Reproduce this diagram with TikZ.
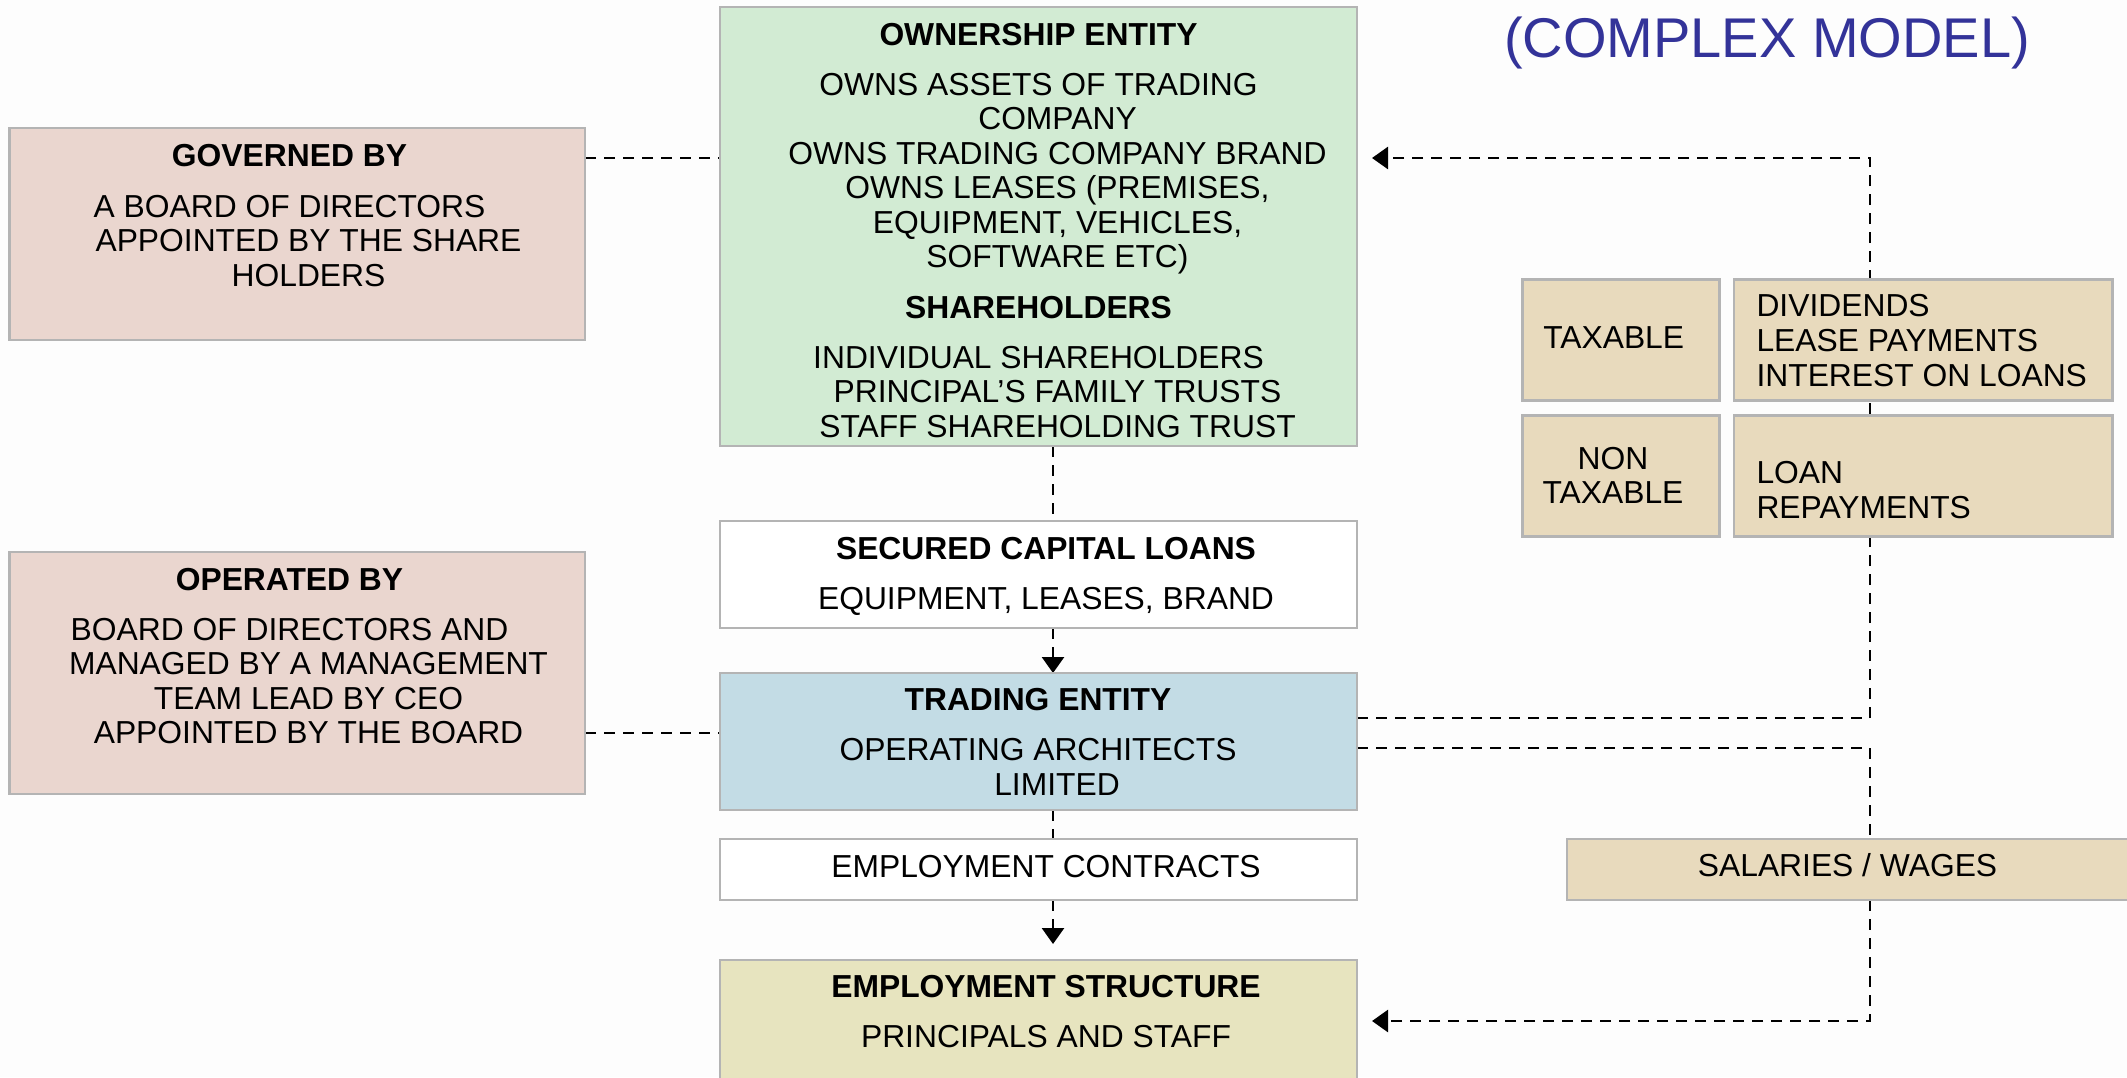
\documentclass[tikz,border=0pt]{standalone}
\usepackage{fontspec}
\setmainfont{Liberation Sans}
\usetikzlibrary{arrows.meta,calc,backgrounds}

\definecolor{pagebg}{HTML}{FDFDFD}
\definecolor{boxline}{HTML}{B4B4B4}
\definecolor{owngreen}{HTML}{D2EBD3}
\definecolor{govpink}{HTML}{EAD6CF}
\definecolor{trdblue}{HTML}{C3DCE5}
\definecolor{flowtan}{HTML}{E8DABD}
\definecolor{empyellow}{HTML}{E7E4BF}
\definecolor{titleblue}{HTML}{333399}

% continuation lines sit a little to the right of the first line
\newcommand\contline{\hspace*{38pt}}
% fixes the top of a text block 24pt above its first baseline
\newcommand\firstln{\rule{0pt}{24pt}}

\begin{document}
\begin{tikzpicture}[x=1pt,y=-1pt,
  box/.style={draw=boxline, line width=2.5pt, rectangle, inner sep=0pt,
              outer sep=0pt, anchor=north west},
  txt/.style={inner sep=0pt, outer sep=0pt, anchor=north, align=center,
              font=\fontsize{31.8}{34.5}\selectfont},
  ltxt/.style={txt, anchor=north west, align=left},
  link/.style={line width=2.7pt, dash pattern=on 11pt off 8pt},
  tip/.style={-{Triangle[length=16pt,width=22pt]}}]

\clip (0,0) rectangle (2127,1077);

% ---- boxes ----
\node[box, fill=owngreen, minimum width=637pt, minimum height=439pt] (own) at (720,7) {};
\node[box, fill=govpink, minimum width=575.5pt, minimum height=212pt] (gov) at (9.5,128) {};
\node[box, fill=govpink, minimum width=575.5pt, minimum height=242pt] (opr) at (9.5,552) {};
\node[box, fill=white, minimum width=637pt, minimum height=107pt] (sec) at (720,521) {};
\node[box, fill=trdblue, minimum width=637pt, minimum height=137pt] (trd) at (720,673) {};
\node[box, fill=white, minimum width=637pt, minimum height=61pt] (con) at (720,839) {};
\node[box, fill=empyellow, minimum width=637pt, minimum height=140pt] (str) at (720,960) {};
\node[box, fill=flowtan, minimum width=197pt, minimum height=121pt] (tax) at (1522.5,279.5) {};
\node[box, fill=flowtan, minimum width=378.5pt, minimum height=121pt] (div) at (1734,279.5) {};
\node[box, fill=flowtan, minimum width=197pt, minimum height=121pt] (ntx) at (1522.5,415.5) {};
\node[box, fill=flowtan, minimum width=378.5pt, minimum height=121pt] (loan) at (1734,415.5) {};
\node[box, fill=flowtan, minimum width=600pt, minimum height=61pt] (sal) at (1567,839) {};

% ---- texts ----
\node[txt] (own-t) at (1038.5,21) {\firstln\textbf{OWNERSHIP ENTITY}\\[15.5pt]
  OWNS ASSETS OF TRADING\\
  \contline COMPANY\\
  \contline OWNS TRADING COMPANY BRAND\\
  \contline OWNS LEASES (PREMISES,\\
  \contline EQUIPMENT, VEHICLES,\\
  \contline SOFTWARE ETC)\\[16pt]
  \textbf{SHAREHOLDERS}\\[15.5pt]
  INDIVIDUAL SHAREHOLDERS\\
  \contline PRINCIPAL’S FAMILY TRUSTS\\
  \contline STAFF SHAREHOLDING TRUST};

\node[txt] (gov-t) at (289.5,142) {\firstln\textbf{GOVERNED BY}\\[16.5pt]
  A BOARD OF DIRECTORS\\
  \contline APPOINTED BY THE SHARE\\
  \contline HOLDERS};

\node[txt] (opr-t) at (289.5,566) {\firstln\textbf{OPERATED BY}\\[15.5pt]
  BOARD OF DIRECTORS AND\\
  \contline MANAGED BY A MANAGEMENT\\
  \contline TEAM LEAD BY CEO\\
  \contline APPOINTED BY THE BOARD};

\node[txt] (sec-t) at (1046,535.6) {\firstln\textbf{SECURED CAPITAL LOANS}\\[15.5pt]
  EQUIPMENT, LEASES, BRAND};

\node[txt] (trd-t) at (1038,686.5) {\firstln\textbf{TRADING ENTITY}\\[15.5pt]
  OPERATING ARCHITECTS\\
  \contline LIMITED};

\node[txt] (con-t) at (1046,853) {\firstln EMPLOYMENT CONTRACTS};

\node[txt] (str-t) at (1046,973.5) {\firstln\textbf{EMPLOYMENT STRUCTURE}\\[15.5pt]
  PRINCIPALS AND STAFF};

\node[txt] (sal-t) at (1847.5,852) {\firstln SALARIES / WAGES};
\node[txt] (tax-t) at (1613.7,324.2) {\firstln TAXABLE};
\node[txt] (ntx-t) at (1613,445) {\firstln NON\\TAXABLE};
\node[ltxt, font=\fontsize{31.8}{35}\selectfont] (div-t) at (1756.5,292)
  {\firstln DIVIDENDS\\LEASE PAYMENTS\\INTEREST ON LOANS};
\node[ltxt, font=\fontsize{31.8}{35}\selectfont] (loan-t) at (1756.5,459)
  {\firstln LOAN\\REPAYMENTS};

\node[anchor=base, inner sep=0pt, text=titleblue, font=\fontsize{56}{60}\selectfont]
  (title) at (1767,57) {(COMPLEX MODEL)};

% ---- connectors, kept under the boxes ----
\begin{pgfonlayer}{background}
\fill[pagebg] (0,0) rectangle (2127,1077);
\coordinate (spine) at (1053,0);
\coordinate (rail) at (1870,0);
\coordinate (govy) at ($(gov.north east)+(0,30)$);
\coordinate (opry) at ($(opr.north east)+(0,181)$);
\coordinate (tr1) at ($(trd.north east)+(0,45)$);
\coordinate (tr2) at ($(trd.north east)+(0,75)$);
\coordinate (stry) at ($(str.north east)+(0,61)$);

\draw[link] (govy) -- (govy -| own.west);
\draw[link] (opry) -- (opry -| trd.west);
\draw[link] (own.south -| spine) -- (sec.north -| spine);
\draw[link,tip] (sec.south -| spine) -- (trd.north -| spine);
\draw[link] (trd.south -| spine) -- (con.north -| spine);
\draw[link,tip,shorten >=16pt] (con.south -| spine) -- (str.north -| spine);
\draw[link,tip,shorten >=15pt] (tr1) -| (rail |- govy) -- (own.east |- govy);
\draw[link,tip,shorten >=15pt] (tr2) -| (rail |- stry) -- (str.east |- stry);
\end{pgfonlayer}
\end{tikzpicture}
\end{document}
